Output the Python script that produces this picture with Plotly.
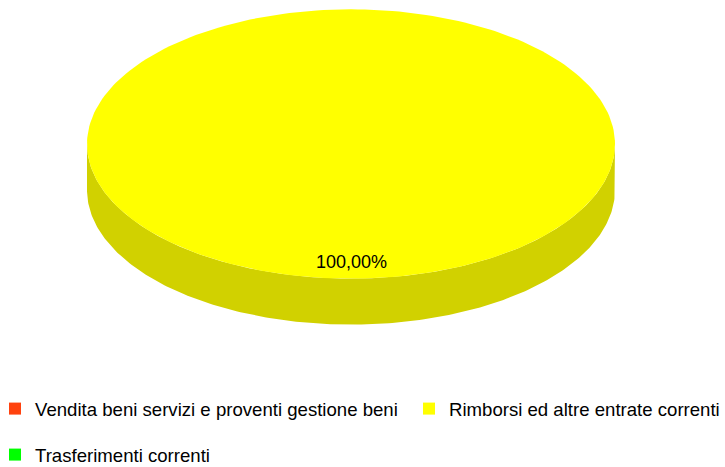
import math
import plotly.graph_objects as go

# ---- data ----
categories = ["Vendita beni servizi e proventi gestione beni",
              "Rimborsi ed altre entrate correnti",
              "Trasferimenti correnti"]
values = [0, 100, 0]
colors = ["#ff420e", "#ffff00", "#00ff00"]

# ---- geometry (unit radius ellipse, tilt, depth) ----
W, H = 725, 467
RX_PX = 264.0
CX_PX, CY_PX = 351.0, 144.0
TILT = 0.510
DEPTH = 0.174
START = 90.0
LABEL_R = 0.876

x_lo = -CX_PX / RX_PX
x_hi = (W - CX_PX) / RX_PX
y_hi = CY_PX / RX_PX
y_lo = -(H - CY_PX) / RX_PX


def darken(hexcol, f=0.82):
    r = int(hexcol[1:3], 16); g = int(hexcol[3:5], 16); b = int(hexcol[5:7], 16)
    return "#%02x%02x%02x" % (int(r * f), int(g * f), int(b * f))


def arc(a0, a1, dy=0.0, n=240):
    pts = []
    for i in range(n + 1):
        a = math.radians(a0 + (a1 - a0) * i / n)
        pts.append((math.cos(a), TILT * math.sin(a) - dy))
    return pts


fig = go.Figure()
total = sum(values)
slices = []
ang = START
for cat, v, c in zip(categories, values, colors):
    sweep = 360.0 * v / total
    slices.append((cat, v, c, ang, ang + sweep))
    ang += sweep

# side walls (front half only)
for cat, v, c, a0, a1 in slices:
    if v <= 0:
        continue
    for k in range(-1, 3):
        lo = max(a0, 180 + 360 * k)
        hi = min(a1, 360 + 360 * k)
        if hi <= lo:
            continue
        top = arc(lo, hi)
        bot = arc(hi, lo, dy=DEPTH)
        pts = top + bot + [top[0]]
        fig.add_trace(go.Scatter(x=[p[0] for p in pts], y=[p[1] for p in pts],
                                 mode="lines", fill="toself", fillcolor=darken(c),
                                 line=dict(width=0, color=darken(c)),
                                 hoverinfo="skip", showlegend=False))

# top faces
for cat, v, c, a0, a1 in slices:
    if v <= 0:
        continue
    pts = arc(a0, a1)
    if a1 - a0 < 359.999:
        pts = [(0, 0)] + pts + [(0, 0)]
    fig.add_trace(go.Scatter(x=[p[0] for p in pts], y=[p[1] for p in pts],
                             mode="lines", fill="toself", fillcolor=c,
                             line=dict(width=0, color=c),
                             hoverinfo="skip", showlegend=False))

# labels
for cat, v, c, a0, a1 in slices:
    if v <= 0:
        continue
    mid = math.radians((a0 + a1) / 2)
    pct = 100.0 * v / total
    fig.add_annotation(x=LABEL_R * math.cos(mid), y=LABEL_R * TILT * math.sin(mid),
                       text=("%.2f%%" % pct).replace(".", ","), showarrow=False,
                       font=dict(family="Liberation Sans", size=18, color="#000000"))

# legend entries
legend_pos = [(-5 / W, 1 - 409 / H), (409 / W, 1 - 409 / H), (-5 / W, 1 - 455 / H)]
legend_names = ["legend", "legend2", "legend3"]
for i, (cat, c) in enumerate(zip(categories, colors)):
    fig.add_trace(go.Scatter(x=[None], y=[None], mode="markers", name=cat,
                             marker=dict(symbol="square", size=12, color=c),
                             legend=legend_names[i]))

legend_common = dict(font=dict(family="Liberation Sans", size=18.6, color="#000000"),
                     bgcolor="rgba(0,0,0,0)", xanchor="left", yanchor="middle")
layout_legends = {}
for name, (lx, ly) in zip(legend_names, legend_pos):
    layout_legends[name] = dict(x=lx, y=ly, **legend_common)

fig.update_layout(
    width=W, height=H,
    margin=dict(l=0, r=0, t=0, b=0, autoexpand=False),
    paper_bgcolor="#ffffff", plot_bgcolor="#ffffff",
    xaxis=dict(range=[x_lo, x_hi], visible=False, fixedrange=True),
    yaxis=dict(range=[y_lo, y_hi], visible=False, fixedrange=True),
    showlegend=True,
    **layout_legends,
)

fig.write_html("out.html", config=dict(displayModeBar=False),
               post_script="document.body.style.margin='0';")
